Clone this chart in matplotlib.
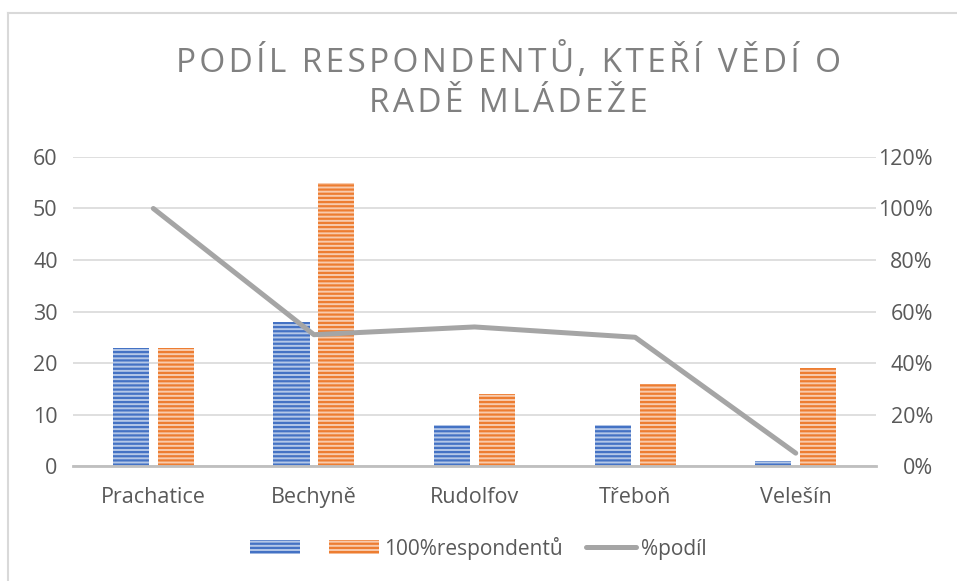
import matplotlib.pyplot as plt
import numpy as np
from matplotlib.lines import Line2D
from matplotlib.patches import Patch

plt.rcParams['font.family'] = ['Open Sans', 'DejaVu Sans']
plt.rcParams['hatch.linewidth'] = 1.6

# data
mesta = ['Prachatice', 'Bechyně', 'Rudolfov', 'Třeboň', 'Velešín']
vedi = [23, 28, 8, 8, 1]
respondentu = [23, 55, 14, 16, 19]
podil = [1.00, 0.51, 0.54, 0.50, 0.05]
levy_ticks = [0, 10, 20, 30, 40, 50, 60]
pravy_ticks = [0, 0.2, 0.4, 0.6, 0.8, 1.0, 1.2]

MODRA = '#4472C4'
ORANZ = '#ED7D31'
SEDA = '#A5A5A5'
TEXT = '#595959'
FS = 15.5

fig = plt.figure(figsize=(9.57, 5.81), dpi=100)
ax = fig.add_axes([0.0763, 0.1979, 0.8391, 0.5319])
ax2 = ax.twinx()

x = np.arange(len(mesta))
w = 0.225
ax.bar(x - 0.14, vedi, w, facecolor='#B4C7E7', edgecolor=MODRA, hatch='----', linewidth=0, zorder=2)
ax.bar(x + 0.14, respondentu, w, facecolor='#F8CBAD', edgecolor=ORANZ, hatch='----', linewidth=0, zorder=2)

ax2.plot(x, podil, color=SEDA, lw=3.6, solid_capstyle='round', zorder=3)

ax.set_xlim(-0.5, len(mesta) - 0.5)
ax.set_ylim(0, 60)
ax2.set_ylim(0, 1.2)
ax.set_yticks(levy_ticks)
ax2.set_yticks(pravy_ticks)
ax2.set_yticklabels([f'{int(round(t * 100))}%' for t in pravy_ticks], ha='right')
ax.set_xticks(x)
ax.set_xticklabels(mesta)

ax.grid(axis='y', color='#D9D9D9', lw=1.2, zorder=0)
ax.set_axisbelow(True)
for a in (ax, ax2):
    for s in a.spines.values():
        s.set_visible(False)
    a.tick_params(length=0, labelsize=FS, labelcolor=TEXT)
ax.spines['bottom'].set_visible(True)
ax.spines['bottom'].set_color('#BFBFBF')
ax.spines['bottom'].set_linewidth(2)
ax.tick_params(axis='y', pad=11)
ax2.tick_params(axis='y', pad=41)
ax.tick_params(axis='x', pad=15)

titul = ['PODÍL RESPONDENTŮ, KTEŘÍ VĚDÍ O', 'RADĚ MLÁDEŽE']
for i, radek in enumerate(titul):
    fig.text(0.531, 1 - (61 + 43 * i) / 581, '\u200a'.join(radek), ha='center', va='center',
             fontsize=24, color='#808080')

handles = [Patch(facecolor='#B4C7E7', edgecolor=MODRA, hatch='----', linewidth=0),
           Patch(facecolor='#F8CBAD', edgecolor=ORANZ, hatch='----', linewidth=0),
           Line2D([], [], color=SEDA, lw=3.6, solid_capstyle='round')]
fig.legend(handles, ['', '100%respondentů', '%podíl'], loc='center', bbox_to_anchor=(0.5, 1 - 548 / 581),
           ncol=3, frameon=False, fontsize=15, labelcolor=TEXT, handlelength=2.4,
           handleheight=0.63, columnspacing=1.1, handletextpad=0.27)

# ramecek grafu (jen levy a horni okraj)
fig.add_artist(Line2D([8 / 957, 8 / 957], [0, 1 - 13 / 581], color='#D9D9D9', lw=1.5))
fig.add_artist(Line2D([8 / 957, 1], [1 - 13 / 581, 1 - 13 / 581], color='#D9D9D9', lw=1.5))

fig.savefig('out.png', dpi=100)
